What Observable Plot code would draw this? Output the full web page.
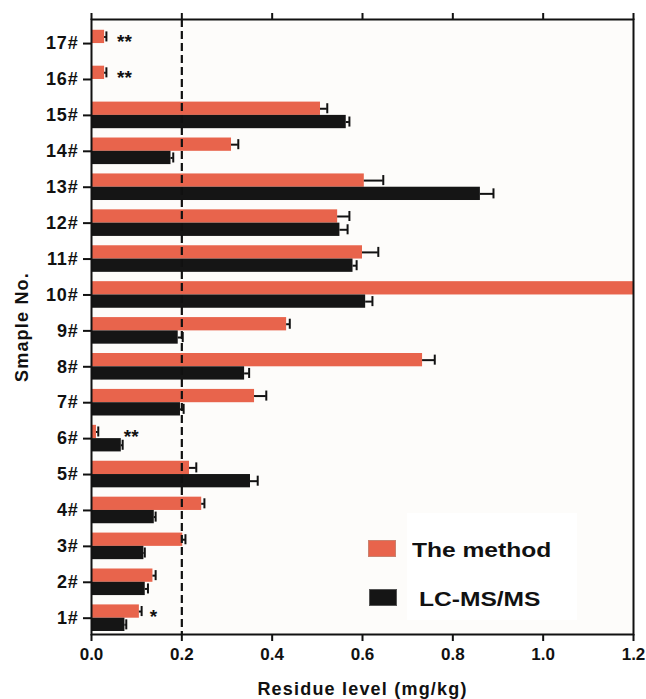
<!DOCTYPE html>
<html>
<head>
<meta charset="utf-8">
<script src="https://cdn.jsdelivr.net/npm/d3@7"></script>
<script src="https://cdn.jsdelivr.net/npm/@observablehq/plot@0.6"></script>
<style>
  html, body { margin: 0; padding: 0; background: #fff; }
  #wrap { position: relative; width: 646px; height: 699px; font-family: "Liberation Sans", Arial, sans-serif; }
  #legend { position: absolute; left: 0; top: 0; width: 646px; height: 699px; pointer-events: none; }
  .lbox { position: absolute; left: 407px; top: 513px; width: 170px; height: 107px; background: #ffffff; }
  .sw { position: absolute; width: 28px; height: 17px; box-sizing: border-box; }
  .lt { position: absolute; font-weight: bold; font-size: 21px; color: #111; white-space: nowrap; line-height: 1; transform: scaleX(1.17); transform-origin: left center; }
</style>
</head>
<body>
<div id="wrap">
  <div id="chart"></div>
  <div id="legend"></div>
</div>
<script>
// ---- data ----
const sampleNo = [1, 2, 3, 4, 5, 6, 7, 8, 9, 10, 11, 12, 13, 14, 15, 16, 17];
const methodVals = [0.106, 0.136, 0.202, 0.244, 0.217, 0.011, 0.361, 0.733, 0.432, 1.2, 0.600, 0.545, 0.604, 0.310, 0.507, 0.029, 0.029];
const methodErr  = [0.005, 0.006, 0.006, 0.006, 0.015, 0.004, 0.026, 0.027, 0.007, 0, 0.035, 0.026, 0.042, 0.015, 0.015, 0.004, 0.004];
const lcVals     = [0.074, 0.119, 0.116, 0.139, 0.352, 0.066, 0.197, 0.339, 0.192, 0.607, 0.579, 0.550, 0.861, 0.176, 0.564, null, null];
const lcErr      = [0.003, 0.006, 0.002, 0.003, 0.016, 0.003, 0.007, 0.010, 0.010, 0.015, 0.008, 0.017, 0.029, 0.005, 0.007, null, null];
const xTicks = [0, 0.2, 0.4, 0.6, 0.8, 1.0, 1.2];
const limitValue = [0.2];
const sigSample = [17, 16, 6, 1];
const sigX      = [0.073, 0.073, 0.088, 0.137];
const sigText   = ["**", "**", "**", "*"];
const seriesNames = ["The method", "LC-MS/MS"];
const seriesColors = ["#E8644C", "#151515"];
const xTitle = "Residue level (mg/kg)";
const yTitle = "Smaple No.";

// ---- tables ----
const H = 0.37; // bar thickness in sample units
const method = sampleNo.map((s, i) => ({s, v: methodVals[i], e: methodErr[i], c: s + H / 2, y1: s, y2: s + H}));
const lc = sampleNo.map((s, i) => ({s, v: lcVals[i], e: lcErr[i], c: s - H / 2, y1: s - H, y2: s}))
  .filter(d => d.v != null);
const errs = [...method, ...lc].filter(d => d.e > 0);
const sig = sigSample.map((s, i) => ({s, x: sigX[i], t: sigText[i]}));

const font = '"Liberation Sans", Arial, sans-serif';

const chart = Plot.plot({
  width: 646,
  height: 699,
  marginLeft: 91,
  marginRight: 13,
  marginTop: 19,
  marginBottom: 65,
  style: {fontFamily: font, fontWeight: "bold", background: "transparent", color: "#111"},
  x: {domain: [0, 1.2]},
  y: {domain: [0.546, 17.67]},
  marks: [
    Plot.frame({fill: "#fdfcfa", stroke: null}),
    Plot.rectX(method, {x1: 0, x2: "v", y1: "y1", y2: "y2", fill: seriesColors[0]}),
    Plot.rectX(lc, {x1: 0, x2: "v", y1: "y1", y2: "y2", fill: seriesColors[1]}),
    Plot.ruleY(errs, {x1: "v", x2: d => d.v + d.e, y: "c", stroke: "#111", strokeWidth: 2}),
    Plot.ruleX(errs, {x: d => d.v + d.e, y1: d => d.c - 0.14, y2: d => d.c + 0.14, stroke: "#111", strokeWidth: 2}),
    Plot.ruleX(limitValue, {stroke: "#111", strokeWidth: 2.2, strokeDasharray: "8,4"}),
    Plot.text(sig, {x: "x", y: d => d.s + H / 2, text: "t", fontSize: 19, fontWeight: "bold", dy: 5, fill: "#111"}),
    Plot.frame({stroke: "#111", strokeWidth: 2}),
    Plot.axisX({anchor: "bottom", ticks: xTicks, tickFormat: d3.format(".1f"), tickSize: 7, tickPadding: 6,
      fontSize: 17, strokeWidth: 2, label: null}),
    Plot.axisX({anchor: "top", ticks: xTicks, tickFormat: () => "", tickSize: 7, strokeWidth: 2, label: null}),
    Plot.axisY({anchor: "left", ticks: sampleNo, tickFormat: d => d + "#", tickSize: 8, tickPadding: 5,
      fontSize: 18, strokeWidth: 2, label: null}),
    Plot.text([xTitle], {frameAnchor: "bottom", dy: 55, lineAnchor: "middle", textAnchor: "middle", fontSize: 18,
      fontWeight: "bold", fill: "#111"}),
    Plot.text([yTitle], {frameAnchor: "left", dx: -69, rotate: -90, lineAnchor: "middle", textAnchor: "middle",
      fontSize: 18, fontWeight: "bold", fill: "#111"})
  ]
});
document.getElementById("chart").appendChild(chart);
chart.querySelectorAll("g[aria-label]").forEach(g => {
  const a = g.getAttribute("aria-label");
  if (a === "y-axis tick label") g.querySelectorAll("text").forEach(t => { t.style.fontSize = "18px"; t.style.letterSpacing = "0.8px"; });
  if (a === "x-axis tick label") g.querySelectorAll("text").forEach(t => { t.style.fontSize = "17px"; });
});
chart.querySelectorAll("text").forEach(t => {
  if (t.textContent === xTitle || t.textContent === yTitle) t.style.letterSpacing = "1.2px";
});

// ---- legend (overlay inside plot area) ----
const legend = document.getElementById("legend");
const box = document.createElement("div");
box.className = "lbox";
legend.appendChild(box);
const legendPos = [{sx: 368, sy: 540, tx: 412, ty: 539}, {sx: 369, sy: 589, tx: 419, ty: 588}];
seriesNames.forEach((name, i) => {
  const sw = document.createElement("div");
  sw.className = "sw";
  sw.style.left = legendPos[i].sx + "px";
  sw.style.top = legendPos[i].sy + "px";
  sw.style.background = seriesColors[i];
  sw.style.border = "1px solid " + (i === 0 ? "#c9826f" : "#555");
  legend.appendChild(sw);
  const t = document.createElement("div");
  t.className = "lt";
  t.style.left = legendPos[i].tx + "px";
  t.style.top = legendPos[i].ty + "px";
  t.textContent = name;
  legend.appendChild(t);
});
</script>
</body>
</html>
